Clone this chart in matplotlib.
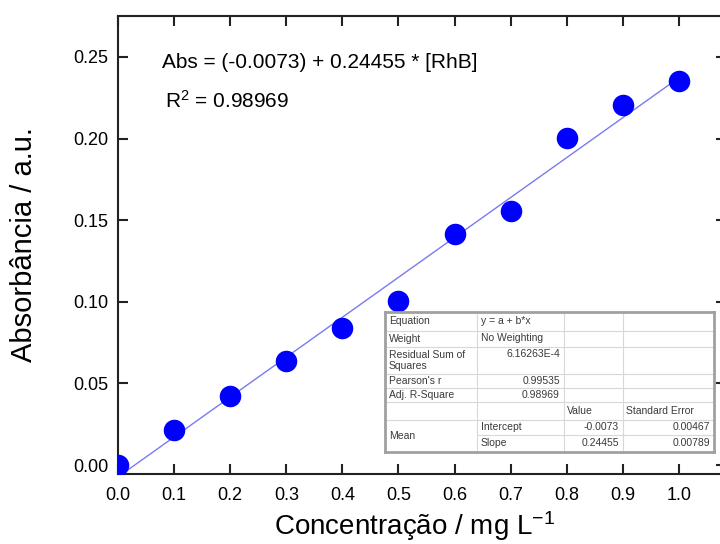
import matplotlib
matplotlib.use("Agg")
import matplotlib.pyplot as plt
import numpy as np

plt.rcParams['font.family'] = ['Liberation Sans', 'DejaVu Sans']
plt.rcParams['mathtext.fontset'] = 'custom'
plt.rcParams['mathtext.rm'] = 'Liberation Sans'
plt.rcParams['mathtext.it'] = 'Liberation Sans'

# dados da curva de calibração
conc = [0.0, 0.1, 0.2, 0.3, 0.4, 0.5, 0.6, 0.7, 0.8, 0.9, 1.0]
absorb = [0.0, 0.0214, 0.0423, 0.0635, 0.0840, 0.1005, 0.1415, 0.1555, 0.2005, 0.2205, 0.2355]
intercept = -0.0073
slope = 0.24455
r2 = 0.98969

# tabela de resultados do ajuste
table_rows = [
    ["Equation", "y = a + b*x", "", ""],
    ["Weight", "No Weighting", "", ""],
    ["Residual Sum of\nSquares", "6.16263E-4", "", ""],
    ["Pearson's r", "0.99535", "", ""],
    ["Adj. R-Square", "0.98969", "", ""],
    ["", "", "Value", "Standard Error"],
    ["Mean", "Intercept", "-0.0073", "0.00467"],
    ["", "Slope", "0.24455", "0.00789"],
]

fig = plt.figure(figsize=(7.2, 5.44), dpi=100)
ax = fig.add_axes([118/720, 1-474/544, 608/720, 458/544])

xfit = np.array([0.0, 1.0])
ax.plot(xfit, intercept + slope*xfit, color='#7a7af0', lw=1, zorder=2)
ax.plot(conc, absorb, 'o', color='#0000ff', markersize=14.5, zorder=3)

ax.set_xlim(0, 1.084)
ax.set_ylim(-0.0055, 0.2751)
ax.set_xticks(np.arange(0, 1.01, 0.1))
ax.set_yticks(np.arange(0, 0.26, 0.05))
ax.xaxis.set_major_formatter(matplotlib.ticker.FormatStrFormatter('%.1f'))
ax.yaxis.set_major_formatter(matplotlib.ticker.FormatStrFormatter('%.2f'))
ax.tick_params(direction='in', length=7, width=1.5, labelsize=13, color='#222222',
               top=True, right=True)
ax.tick_params(axis='x', pad=9)
ax.tick_params(axis='y', pad=7)
for s in ax.spines.values():
    s.set_linewidth(1.5)
    s.set_color('#222222')

ax.set_xlabel(r'Concentração / mg L$^{\mathrm{-1}}$', fontsize=20)
ax.xaxis.set_label_coords((415-118)/608, -(509-474)/458)
ax.set_ylabel('Absorbância / a.u.', fontsize=21)
ax.yaxis.set_label_coords(-(118-38)/608, (474-245)/458)

ax.text(162/720, 1-63/544, 'Abs = (-0.0073) + 0.24455 * [RhB]', transform=fig.transFigure,
        fontsize=15, va='center', ha='left')
ax.text(165/720, 1-101/544, r'R$^{\mathrm{2}}$ = %.5f' % r2, transform=fig.transFigure,
        fontsize=15, va='center', ha='left')

# tabela desenhada à mão (células mescladas)
col_x = [385, 477, 564, 623, 714]
row_y = [312, 331, 347, 374, 388, 402, 420, 435, 452]
tx0, tx1 = col_x[0], col_x[-1]
tab = fig.add_axes([tx0/720, 1-row_y[-1]/544, (tx1-tx0)/720, (row_y[-1]-row_y[0])/544])
tab.set_xlim(tx0, tx1)
tab.set_ylim(row_y[-1], row_y[0])
tab.set_xticks([])
tab.set_yticks([])
tab.patch.set_facecolor('white')
for s in tab.spines.values():
    s.set_color('#a0a0a0')
    s.set_linewidth(2)
grid_c = '#d8d8d8'
for y in row_y[1:-1]:
    if y == row_y[7]:
        tab.plot([col_x[1], tx1], [y, y], color=grid_c, lw=0.8)
    else:
        tab.plot([tx0, tx1], [y, y], color=grid_c, lw=0.8)
for x in col_x[1:-1]:
    tab.plot([x, x], [row_y[0], row_y[-1]], color=grid_c, lw=0.8)

fs = 7.5
tc = '#3a3a3a'
for i, row in enumerate(table_rows):
    yc = (row_y[i] + row_y[i+1]) / 2
    if i == 6:
        tab.text(col_x[0] + 4, (row_y[6] + row_y[8]) / 2, row[0], fontsize=fs, va='center', color=tc)
    elif row[0]:
        tab.text(col_x[0] + 4, yc, row[0], fontsize=fs, va='center', color=tc, linespacing=1.1)
    if i <= 4:
        if i <= 1:
            tab.text(col_x[1] + 4, yc - 1, row[1], fontsize=fs, va='center', color=tc)
        else:
            ytxt = row_y[i] + 7 if i == 2 else yc
            tab.text(col_x[2] - 4, ytxt, row[1], fontsize=fs, va='center', ha='right', color=tc)
    elif i == 5:
        tab.text(col_x[2] + 3, yc, row[2], fontsize=fs, va='center', color=tc)
        tab.text(col_x[3] + 3, yc, row[3], fontsize=fs, va='center', color=tc)
    else:
        tab.text(col_x[1] + 4, yc, row[1], fontsize=fs, va='center', color=tc)
        tab.text(col_x[3] - 4, yc, row[2], fontsize=fs, va='center', ha='right', color=tc)
        tab.text(col_x[4] - 4, yc, row[3], fontsize=fs, va='center', ha='right', color=tc)

fig.savefig('out.png', dpi=100)
